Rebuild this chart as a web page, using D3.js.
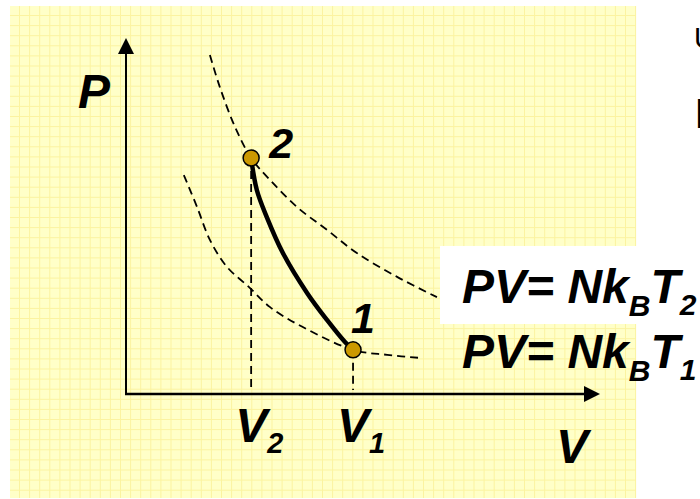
<!DOCTYPE html>
<html>
<head>
<meta charset="utf-8">
<script src="https://cdn.jsdelivr.net/npm/d3@7"></script>
<style>
  body { margin: 0; background: #fff; }
  svg text { font-family: Arial, "Liberation Sans", sans-serif; font-weight: bold; font-style: italic; }
  svg text.plain { font-weight: normal; font-style: normal; }
</style>
</head>
<body>
<div id="chart"></div>
<script>
// Isotherm T2 (upper dashed curve) as [V, P]
const isoT2 = [[1.77, 9.52], [1.98, 8.62], [2.30, 7.50], [2.64, 6.63], [3.04, 6.01],
  [3.61, 5.25], [4.24, 4.61], [4.87, 3.96], [5.72, 3.29], [6.56, 2.72]];
// Isotherm T1 (lower dashed curve)
const isoT1 = [[1.22, 6.15], [1.50, 5.25], [1.77, 4.33], [2.13, 3.57], [2.59, 3.01],
  [3.04, 2.44], [3.73, 1.88], [4.79, 1.24], [5.51, 1.10], [6.24, 1.01]];
// Solid process from state 2 to state 1
const process = [[2.64, 6.63], [2.76, 5.73], [2.97, 4.97], [3.31, 3.96], [3.82, 2.84],
  [4.24, 2.08], [4.62, 1.46], [4.79, 1.24]];
// States
const states = [
  { name: "2", V: 2.64, P: 6.63, sub: "2" },
  { name: "1", V: 4.79, P: 1.24, sub: "1" }
];
const formulas = ["2", "1"];

const width = 700, height = 499;

const svg = d3.select("#chart")
  .append("svg")
  .attr("width", width)
  .attr("height", height);

// yellow graph-paper panel
const panel = { x: 10, y: 6, w: 626, h: 492 };
svg.append("rect")
  .attr("x", panel.x).attr("y", panel.y)
  .attr("width", panel.w).attr("height", panel.h)
  .attr("fill", "#ffffc8");

const grid = svg.append("g").attr("stroke", "#fbf3a0").attr("stroke-width", 1);
d3.range(panel.x + 9.5, panel.x + panel.w, 10.1).forEach(x => {
  grid.append("line").attr("x1", x).attr("x2", x)
    .attr("y1", panel.y).attr("y2", panel.y + panel.h);
});
d3.range(panel.y + 9.5, panel.y + panel.h, 10.1).forEach(y => {
  grid.append("line").attr("y1", y).attr("y2", y)
    .attr("x1", panel.x).attr("x2", panel.x + panel.w);
});

// scales: origin at the axes corner, 10 units to the arrow tips
const x = d3.scaleLinear().domain([0, 10]).range([126, 600]);
const y = d3.scaleLinear().domain([0, 10]).range([394, 38]);

const line = d3.line()
  .x(d => x(d[0]))
  .y(d => y(d[1]))
  .curve(d3.curveCatmullRom);

// dashed isotherms
[isoT2, isoT1].forEach(pts => {
  svg.append("path")
    .attr("d", line(pts))
    .attr("fill", "none")
    .attr("stroke", "#000")
    .attr("stroke-width", 1.8)
    .attr("stroke-dasharray", "8,5");
});

// dashed drops to the V axis
states.forEach(s => {
  svg.append("line")
    .attr("x1", x(s.V)).attr("x2", x(s.V))
    .attr("y1", y(s.P)).attr("y2", y(0) - 4)
    .attr("stroke", "#000")
    .attr("stroke-width", 1.8)
    .attr("stroke-dasharray", "8,5");
});

// axes with arrow heads
svg.append("line")
  .attr("x1", x(0)).attr("y1", y(0))
  .attr("x2", x(0)).attr("y2", y(10) + 14)
  .attr("stroke", "#000").attr("stroke-width", 2);
svg.append("line")
  .attr("x1", x(0) - 1).attr("y1", y(0))
  .attr("x2", x(10) - 14).attr("y2", y(0))
  .attr("stroke", "#000").attr("stroke-width", 2.5);
svg.append("path")
  .attr("d", `M${x(0)},${y(10)} L${x(0) - 8},${y(10) + 16} L${x(0) + 8},${y(10) + 16}Z`)
  .attr("fill", "#000");
svg.append("path")
  .attr("d", `M${x(10)},${y(0)} L${x(10) - 16},${y(0) - 8} L${x(10) - 16},${y(0) + 8}Z`)
  .attr("fill", "#000");

// solid process curve
svg.append("path")
  .attr("d", line(process))
  .attr("fill", "none")
  .attr("stroke", "#000")
  .attr("stroke-width", 4.5)
  .attr("stroke-linecap", "round");

// state points
svg.selectAll("circle.state")
  .data(states)
  .enter()
  .append("circle")
  .attr("class", "state")
  .attr("cx", d => x(d.V))
  .attr("cy", d => y(d.P))
  .attr("r", 8)
  .attr("fill", "#cc9900")
  .attr("stroke", "#000")
  .attr("stroke-width", 1.5);

// point labels
svg.append("text").attr("x", x(states[0].V) + 18).attr("y", y(states[0].P))
  .attr("font-size", 43).text(states[0].name);
svg.append("text").attr("x", x(states[1].V) - 2).attr("y", y(states[1].P) - 17)
  .attr("font-size", 43).text(states[1].name);

// axis labels
svg.append("text").attr("x", 78).attr("y", 108).attr("font-size", 48).text("P");
svg.append("text").attr("x", 556).attr("y", 463).attr("font-size", 48).text("V");

// V1, V2 tick labels
states.forEach(s => {
  const t = svg.append("text")
    .attr("x", x(s.V) - 16)
    .attr("y", 442)
    .attr("font-size", 48);
  t.append("tspan").text("V");
  t.append("tspan").attr("font-size", 29).attr("dy", 11).text(s.sub);
});

// white box behind upper formula
svg.append("rect")
  .attr("x", 440).attr("y", 246)
  .attr("width", 260).attr("height", 78)
  .attr("fill", "#fff");

// partly hidden text at the right edge
svg.append("text").attr("class", "plain").attr("x", 694).attr("y", 48)
  .attr("font-size", 29).text("U");
svg.append("text").attr("class", "plain").attr("x", 694).attr("y", 128)
  .attr("font-size", 43).text("I");

// formulas PV = N k_B T
formulas.forEach((sub, i) => {
  const t = svg.append("text")
    .attr("x", 462)
    .attr("y", 303 + i * 65)
    .attr("font-size", 48);
  t.append("tspan").text("PV= Nk");
  t.append("tspan").attr("font-size", 30).attr("dy", 13).text("B");
  t.append("tspan").attr("dy", -13).text("T");
  t.append("tspan").attr("font-size", 30).attr("dy", 12).text(sub);
});
</script>
</body>
</html>
